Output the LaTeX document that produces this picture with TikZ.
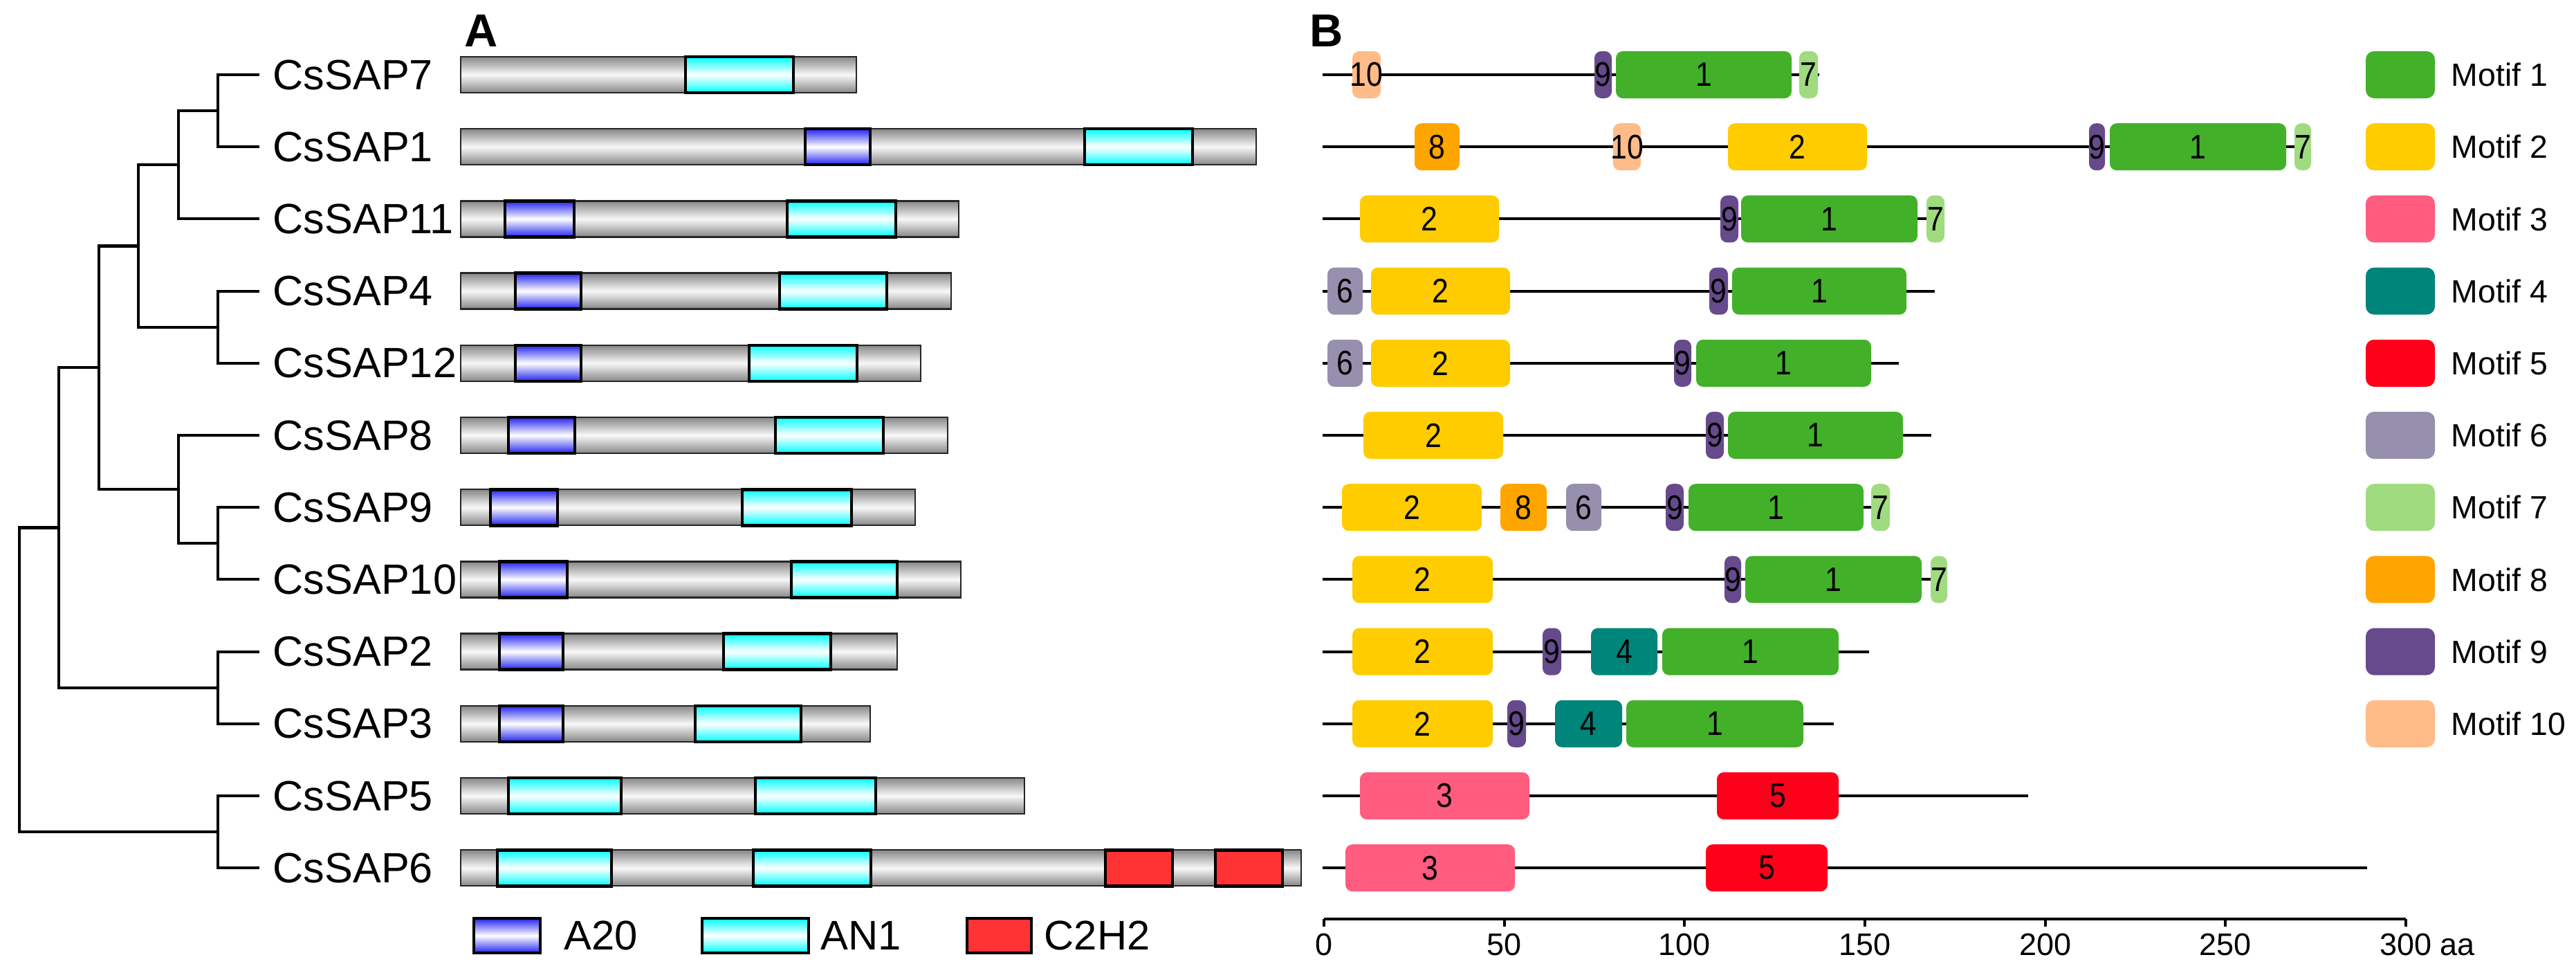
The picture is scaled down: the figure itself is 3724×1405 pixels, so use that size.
\documentclass[tikz,border=0pt]{standalone}
\usepackage{fontspec}
\setmainfont{Liberation Sans}
\newfontfamily\narrowsans[FakeStretch=0.87]{Liberation Sans}
\usetikzlibrary{calc}

\definecolor{mc1}{RGB}{67,176,42}
\definecolor{mc2}{RGB}{255,204,0}
\definecolor{mc3}{RGB}{255,92,128}
\definecolor{mc4}{RGB}{0,133,122}
\definecolor{mc5}{RGB}{255,0,26}
\definecolor{mc6}{RGB}{150,143,173}
\definecolor{mc7}{RGB}{160,219,128}
\definecolor{mc8}{RGB}{255,165,0}
\definecolor{mc9}{RGB}{102,74,140}
\definecolor{mc10}{RGB}{255,187,136}
\definecolor{barg}{RGB}{135,135,135}
\definecolor{barw}{RGB}{248,248,248}
\definecolor{aztblue}{RGB}{35,35,240}
\definecolor{anonecyan}{RGB}{0,255,255}
\definecolor{czred}{RGB}{255,51,51}

\begin{document}
\begin{tikzpicture}[x=0.01cm,y=-0.01cm,line width=1pt,
  tree/.style={line width=1.15pt},
  genename/.style={anchor=west,inner xsep=0.18cm,inner ysep=0pt,font=\fontsize{17.4}{20}\selectfont},
  bar/.style={draw=black!85,line width=0.7pt,top color=barg,bottom color=barg,middle color=barw},
  atwenty/.style={draw=black,line width=1.3pt,top color=aztblue,bottom color=aztblue,middle color=white},
  anone/.style={draw=black,line width=1.3pt,top color=anonecyan,bottom color=anonecyan,middle color=white},
  ctwo/.style={draw=black,line width=1.3pt,fill=czred},
  prot/.style={line width=1.1pt},
  motifnum/.style={inner sep=0pt,font=\narrowsans\fontsize{14}{16}\selectfont},
  legtext/.style={anchor=west,inner sep=0pt,font=\fontsize{17}{20}\selectfont},
  motiftext/.style={anchor=west,inner sep=0pt,font=\fontsize{13.2}{16}\selectfont},
  ticklab/.style={anchor=north,inner sep=0pt,font=\fontsize{12.8}{15}\selectfont},
  panel/.style={anchor=north west,inner sep=0pt,font=\bfseries\fontsize{19}{22}\selectfont}]
\useasboundingbox (0,0) rectangle (3724,1405);

\node[panel] (lblA) at (670,20) {A};
\node[panel] (lblB) at (1892,20) {B};

% CsSAP7
\begin{scope}[shift={(0,108)}]
  \node[genename] (s7) at (375,0) {CsSAP7};
  \draw[bar] (666,-26) rectangle (1238,26);
  \draw[anone] (991,-26) rectangle (1147,26);
  \draw[prot] (1912,0) -- (2630,0);
  \foreach \l/\r/\n in {1955/1996/10,2305/2330/9,2336/2590/1,2601/2628/7}{
    \fill[mc\n,rounded corners=0.1cm] (\l,-34) rectangle (\r,34);
    \node[motifnum] (m7-\n) at ({(\l+\r)/2},0) {\n};}
\end{scope}

% CsSAP1
\begin{scope}[shift={(0,212.2)}]
  \node[genename] (s1) at (375,0) {CsSAP1};
  \draw[bar] (666,-26) rectangle (1816,26);
  \draw[atwenty] (1164,-26) rectangle (1258,26);
  \draw[anone] (1568,-26) rectangle (1724,26);
  \draw[prot] (1912,0) -- (3341,0);
  \foreach \l/\r/\n in {2045/2110/8,2332/2372/10,2498/2699/2,3020/3043/9,3050/3305/1,3317/3341/7}{
    \fill[mc\n,rounded corners=0.1cm] (\l,-34) rectangle (\r,34);
    \node[motifnum] (m1-\n) at ({(\l+\r)/2},0) {\n};}
\end{scope}

% CsSAP11
\begin{scope}[shift={(0,316.4)}]
  \node[genename] (s11) at (375,0) {CsSAP11};
  \draw[bar] (666,-26) rectangle (1386,26);
  \draw[atwenty] (730,-26) rectangle (830,26);
  \draw[anone] (1138,-26) rectangle (1295,26);
  \draw[prot] (1912,0) -- (2811,0);
  \foreach \l/\r/\n in {1966/2167/2,2487/2513/9,2517/2772/1,2785/2811/7}{
    \fill[mc\n,rounded corners=0.1cm] (\l,-34) rectangle (\r,34);
    \node[motifnum] (m11-\n) at ({(\l+\r)/2},0) {\n};}
\end{scope}

% CsSAP4
\begin{scope}[shift={(0,420.6)}]
  \node[genename] (s4) at (375,0) {CsSAP4};
  \draw[bar] (666,-26) rectangle (1375,26);
  \draw[atwenty] (745,-26) rectangle (840,26);
  \draw[anone] (1127,-26) rectangle (1282,26);
  \draw[prot] (1912,0) -- (2797,0);
  \foreach \l/\r/\n in {1919/1970/6,1982/2183/2,2471/2498/9,2504/2756/1}{
    \fill[mc\n,rounded corners=0.1cm] (\l,-34) rectangle (\r,34);
    \node[motifnum] (m4-\n) at ({(\l+\r)/2},0) {\n};}
\end{scope}

% CsSAP12
\begin{scope}[shift={(0,524.8)}]
  \node[genename] (s12) at (375,0) {CsSAP12};
  \draw[bar] (666,-26) rectangle (1331,26);
  \draw[atwenty] (745,-26) rectangle (840,26);
  \draw[anone] (1083,-26) rectangle (1239,26);
  \draw[prot] (1912,0) -- (2745,0);
  \foreach \l/\r/\n in {1919/1970/6,1982/2183/2,2420/2445/9,2452/2705/1}{
    \fill[mc\n,rounded corners=0.1cm] (\l,-34) rectangle (\r,34);
    \node[motifnum] (m12-\n) at ({(\l+\r)/2},0) {\n};}
\end{scope}

% CsSAP8
\begin{scope}[shift={(0,629)}]
  \node[genename] (s8) at (375,0) {CsSAP8};
  \draw[bar] (666,-26) rectangle (1370,26);
  \draw[atwenty] (735,-26) rectangle (831,26);
  \draw[anone] (1121,-26) rectangle (1277,26);
  \draw[prot] (1912,0) -- (2792,0);
  \foreach \l/\r/\n in {1971/2173/2,2466/2492/9,2498/2751/1}{
    \fill[mc\n,rounded corners=0.1cm] (\l,-34) rectangle (\r,34);
    \node[motifnum] (m8-\n) at ({(\l+\r)/2},0) {\n};}
\end{scope}

% CsSAP9
\begin{scope}[shift={(0,733.2)}]
  \node[genename] (s9) at (375,0) {CsSAP9};
  \draw[bar] (666,-26) rectangle (1323,26);
  \draw[atwenty] (709,-26) rectangle (806,26);
  \draw[anone] (1073,-26) rectangle (1231,26);
  \draw[prot] (1912,0) -- (2732,0);
  \foreach \l/\r/\n in {1940/2142/2,2169/2236/8,2264/2315/6,2408/2434/9,2441/2694/1,2705/2732/7}{
    \fill[mc\n,rounded corners=0.1cm] (\l,-34) rectangle (\r,34);
    \node[motifnum] (m9-\n) at ({(\l+\r)/2},0) {\n};}
\end{scope}

% CsSAP10
\begin{scope}[shift={(0,837.4)}]
  \node[genename] (s10) at (375,0) {CsSAP10};
  \draw[bar] (666,-26) rectangle (1389,26);
  \draw[atwenty] (722,-26) rectangle (820,26);
  \draw[anone] (1144,-26) rectangle (1297,26);
  \draw[prot] (1912,0) -- (2815,0);
  \foreach \l/\r/\n in {1955/2158/2,2493/2517/9,2523/2778/1,2791/2815/7}{
    \fill[mc\n,rounded corners=0.1cm] (\l,-34) rectangle (\r,34);
    \node[motifnum] (m10-\n) at ({(\l+\r)/2},0) {\n};}
\end{scope}

% CsSAP2
\begin{scope}[shift={(0,941.6)}]
  \node[genename] (s2) at (375,0) {CsSAP2};
  \draw[bar] (666,-26) rectangle (1297,26);
  \draw[atwenty] (722,-26) rectangle (814,26);
  \draw[anone] (1046,-26) rectangle (1201,26);
  \draw[prot] (1912,0) -- (2702,0);
  \foreach \l/\r/\n in {1955/2158/2,2230/2257/9,2300/2396/4,2403/2658/1}{
    \fill[mc\n,rounded corners=0.1cm] (\l,-34) rectangle (\r,34);
    \node[motifnum] (m2-\n) at ({(\l+\r)/2},0) {\n};}
\end{scope}

% CsSAP3
\begin{scope}[shift={(0,1045.8)}]
  \node[genename] (s3) at (375,0) {CsSAP3};
  \draw[bar] (666,-26) rectangle (1258,26);
  \draw[atwenty] (722,-26) rectangle (814,26);
  \draw[anone] (1005,-26) rectangle (1158,26);
  \draw[prot] (1912,0) -- (2651,0);
  \foreach \l/\r/\n in {1955/2158/2,2179/2206/9,2248/2345/4,2351/2607/1}{
    \fill[mc\n,rounded corners=0.1cm] (\l,-34) rectangle (\r,34);
    \node[motifnum] (m3-\n) at ({(\l+\r)/2},0) {\n};}
\end{scope}

% CsSAP5
\begin{scope}[shift={(0,1150)}]
  \node[genename] (s5) at (375,0) {CsSAP5};
  \draw[bar] (666,-26) rectangle (1481,26);
  \draw[anone] (735,-26) rectangle (898,26);
  \draw[anone] (1092,-26) rectangle (1266,26);
  \draw[prot] (1912,0) -- (2932,0);
  \foreach \l/\r/\n in {1966/2211/3,2482/2658/5}{
    \fill[mc\n,rounded corners=0.1cm] (\l,-34) rectangle (\r,34);
    \node[motifnum] (m5-\n) at ({(\l+\r)/2},0) {\n};}
\end{scope}

% CsSAP6
\begin{scope}[shift={(0,1254.2)}]
  \node[genename] (s6) at (375,0) {CsSAP6};
  \draw[bar] (666,-26) rectangle (1881,26);
  \draw[anone] (719,-26) rectangle (884,26);
  \draw[anone] (1089,-26) rectangle (1259,26);
  \draw[ctwo] (1598,-26) rectangle (1695,26);
  \draw[ctwo] (1757,-26) rectangle (1854,26);
  \draw[prot] (1912,0) -- (3422,0);
  \foreach \l/\r/\n in {1945/2190/3,2466/2642/5}{
    \fill[mc\n,rounded corners=0.1cm] (\l,-34) rectangle (\r,34);
    \node[motifnum] (m6-\n) at ({(\l+\r)/2},0) {\n};}
\end{scope}

% tree
\coordinate (n71) at (315,160.1);
\coordinate (n711) at (258,238.25);
\coordinate (n412) at (315,472.7);
\coordinate (nA) at (200,355.475);
\coordinate (n910) at (315,785.3);
\coordinate (n8) at (258,707.15);
\coordinate (nB) at (143,531.3);
\coordinate (n23) at (315,993.7);
\coordinate (nC) at (85,762.5);
\coordinate (n56) at (315,1202.1);
\coordinate (root) at (28,982.3);
\draw[tree] (n71) |- (s7.west) (n71) |- (s1.west);
\draw[tree] (n711) |- (n71) (n711) |- (s11.west);
\draw[tree] (n412) |- (s4.west) (n412) |- (s12.west);
\draw[tree] (nA) |- (n711) (nA) |- (n412);
\draw[tree] (n910) |- (s9.west) (n910) |- (s10.west);
\draw[tree] (n8) |- (s8.west) (n8) |- (n910);
\draw[tree] (nB) |- (nA) (nB) |- (n8);
\draw[tree] (n23) |- (s2.west) (n23) |- (s3.west);
\draw[tree] (nC) |- (nB) (nC) |- (n23);
\draw[tree] (n56) |- (s5.west) (n56) |- (s6.west);
\draw[tree] (root) |- (nC) (root) |- (n56);

% domain legend
\draw[atwenty] (685,1327) rectangle (781,1377);
\node[legtext] (lgazt) at (814,1352) {A20};
\draw[anone] (1015,1327) rectangle (1169,1377);
\node[legtext] (lganone) at (1185,1352) {AN1};
\draw[ctwo] (1398,1327) rectangle (1491,1377);
\node[legtext] (lgctwo) at (1508,1352) {C2H2};

% motif legend
\foreach \n in {1,...,10}{
  \fill[mc\n,rounded corners=0.12cm] (3420,{74+(\n-1)*104.2}) rectangle (3520,{142+(\n-1)*104.2});
  \node[motiftext] (lg\n) at (3542,{108+(\n-1)*104.2}) {Motif \n};}

% scale
\draw[line width=1.2pt] (1914,1328) -- (3478,1328);
\foreach \t/\txt in {0/0,50/50,100/100,150/150,200/200,250/250,300/{300\rlap{\ aa}}}{
  \draw[line width=1.2pt] (1914+5.213*\t,1328) -- (1914+5.213*\t,1339);
  \node[ticklab] (t\t) at (1914+5.213*\t,1347) {\txt};}
\end{tikzpicture}
\end{document}
